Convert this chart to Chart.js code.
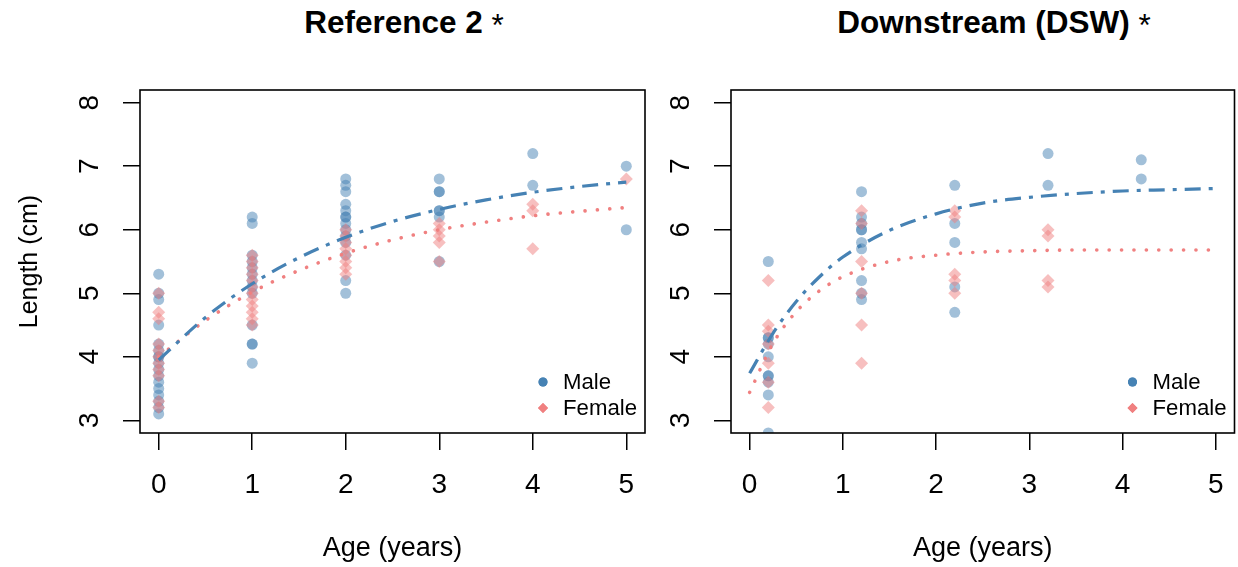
<!DOCTYPE html>
<html>
<head>
<meta charset="utf-8">
<script src="https://cdn.jsdelivr.net/npm/chart.js@4.4.1/dist/chart.umd.min.js"></script>
<style>
    body { margin: 0; background: #fff; width: 1238px; height: 567px; overflow: hidden; position: relative; font-family: "Liberation Sans", Arial, Helvetica, sans-serif; }
    .panel { position: absolute; top: 0; }
    .title { position: absolute; top: 3px; font-weight: bold; font-size: 31.5px; line-height: 38px; white-space: nowrap; transform: translateX(-50%); color: #000; }
    .title span { font-weight: normal; position: relative; top: 3px; }
</style>
</head>
<body>
<div class="title" style="left: 404px;">Reference 2 <span>*</span></div>
<div class="title" style="left: 994px;">Downstream (DSW) <span>*</span></div>
<div class="panel" style="left: 0;"><canvas class="ref-chart" width="660" height="567"></canvas></div>
<div class="panel" style="left: 660px;"><canvas class="dsw-chart" width="581" height="567"></canvas></div>

<script>
const xTicks = [0, 1, 2, 3, 4, 5];
const yTicks = [3, 4, 5, 6, 7, 8];

// Reference 2
const refAges = [0, 1, 2, 3, 4, 5];
const refMaleLen = [
    [5.3, 5.0, 4.9, 4.5, 4.2, 4.1, 4.0, 4.0, 3.9, 3.8, 3.7, 3.6, 3.5, 3.4, 3.3, 3.2, 3.1],
    [6.2, 6.1, 5.6, 5.5, 5.4, 5.3, 5.2, 5.1, 5.0, 4.5, 4.2, 4.2, 3.9],
    [6.8, 6.7, 6.6, 6.4, 6.3, 6.2, 6.2, 6.1, 6.0, 5.9, 5.8, 5.6, 5.2, 5.0],
    [6.8, 6.6, 6.6, 6.3, 6.3, 6.2, 5.5],
    [7.2, 6.7],
    [7.0, 6.0]
];
const refFemaleLen = [
    [5.0, 4.7, 4.6, 4.2, 4.1, 4.0, 3.9, 3.8, 3.7, 3.3, 3.2],
    [5.6, 5.5, 5.4, 5.3, 5.2, 5.1, 5.0, 4.9, 4.8, 4.7, 4.6, 4.5],
    [6.0, 5.9, 5.8, 5.7, 5.6, 5.5, 5.4, 5.3],
    [6.1, 6.0, 5.9, 5.8, 5.5],
    [6.4, 6.3, 5.7],
    [6.8]
];
const refCurveAge = [0, 0.5, 1, 1.5, 2, 2.5, 3, 3.5, 4, 4.5, 5];
const refMaleFit = [3.95, 4.62, 5.15, 5.56, 5.88, 6.13, 6.32, 6.47, 6.59, 6.68, 6.75];
const refFemaleFit = [4.0, 4.57, 5.02, 5.36, 5.63, 5.84, 6.0, 6.12, 6.22, 6.29, 6.35];

// Downstream (DSW)
const dswAges = [0.2, 1.2, 2.2, 3.2, 4.2];
const dswMaleLen = [
    [5.5, 4.3, 4.3, 4.2, 4.0, 3.7, 3.7, 3.6, 3.4, 2.8],
    [6.6, 6.2, 6.1, 6.0, 6.0, 5.8, 5.7, 5.2, 5.0, 4.9],
    [6.7, 6.1, 5.8, 5.1, 4.7],
    [7.2, 6.7],
    [7.1, 6.8]
];
const dswFemaleLen = [
    [5.2, 4.5, 4.4, 4.2, 3.9, 3.6, 3.2],
    [6.3, 6.1, 5.5, 5.0, 4.5, 3.9],
    [6.3, 6.2, 5.3, 5.2, 5.0],
    [6.0, 5.9, 5.2, 5.1],
    []
];
const dswCurveAge = [0, 0.25, 0.5, 0.75, 1, 1.5, 2, 2.5, 3, 3.5, 4, 4.5, 5];
const dswMaleFit = [3.74, 4.37, 4.87, 5.26, 5.57, 5.99, 6.25, 6.42, 6.51, 6.57, 6.61, 6.63, 6.65];
const dswFemaleFit = [3.44, 4.21, 4.71, 5.04, 5.26, 5.50, 5.60, 5.65, 5.67, 5.68, 5.68, 5.68, 5.68];

const FONT = "'Liberation Sans', Arial, Helvetica, sans-serif";
const BLUE = "rgb(70,130,180)";
const PINK = "rgb(240,128,128)";

function toPoints(ages, lens) {
    let pts = [];
    ages.forEach((a, i) => {
        lens[i].forEach(v => pts.push({ x: a, y: v }));
    });
    return pts;
}

function toLine(ages, vals) {
    return ages.map((a, i) => ({ x: a, y: vals[i] }));
}

// box round the plot area, like R's box()
const boxPlugin = {
    id: "box",
    afterDatasetsDraw(chart) {
        let { ctx, chartArea: a } = chart;
        ctx.save();
        ctx.strokeStyle = "#000";
        ctx.lineWidth = 1.6;
        ctx.strokeRect(a.left, a.top, a.right - a.left, a.bottom - a.top);
        ctx.restore();
    }
};

// legend in the bottom right corner
const cornerLegend = {
    id: "cornerLegend",
    afterDraw(chart) {
        let { ctx, chartArea: a } = chart;
        let items = [
            { text: "Male", style: "circle", color: BLUE, r: 4.5, dy: -51 },
            { text: "Female", style: "rectRot", color: PINK, r: 5, dy: -25 }
        ];
        ctx.save();
        ctx.font = "22.2px " + FONT;
        ctx.textBaseline = "middle";
        items.forEach(it => {
            let y = a.bottom + it.dy;
            ctx.fillStyle = it.color;
            Chart.helpers.drawPoint(ctx, { pointStyle: it.style, radius: it.r, borderWidth: 0 }, a.right - 102, y);
            ctx.fill();
            ctx.fillStyle = "#000";
            ctx.fillText(it.text, a.right - 82, y + 1);
        });
        ctx.restore();
    }
};

function noScalePadding(s) {
    s.paddingLeft = 0;
    s.paddingRight = 0;
    s.paddingTop = 0;
    s.paddingBottom = 0;
}

function makeChart(canvas, opts) {
    return new Chart(canvas, {
        type: "scatter",
        data: {
            datasets: [
                {
                    label: "Male fit", type: "line", data: opts.maleFit, order: 0, clip: 0,
                    borderColor: BLUE, borderWidth: 3.2, borderDash: [16, 8, 4, 8],
                    pointRadius: 0, showLine: true, fill: false, cubicInterpolationMode: "monotone"
                },
                {
                    label: "Female fit", type: "line", data: opts.femaleFit, order: 1, clip: 0,
                    borderColor: PINK, borderWidth: 3.6, borderDash: [0.1, 12.3], borderCapStyle: "round",
                    pointRadius: 0, showLine: true, fill: false, cubicInterpolationMode: "monotone"
                },
                {
                    label: "Female", data: opts.female, order: 2, clip: 0,
                    pointStyle: "rectRot", pointRadius: 6.5, borderWidth: 0,
                    backgroundColor: "rgba(240,128,128,0.5)"
                },
                {
                    label: "Male", data: opts.male, order: 3, clip: 0,
                    pointStyle: "circle", pointRadius: 5.5, borderWidth: 0,
                    backgroundColor: "rgba(70,130,180,0.5)"
                }
            ]
        },
        options: {
            responsive: false,
            animation: false,
            events: [],
            layout: { padding: { top: 90, right: opts.padRight, left: 0, bottom: 0 } },
            plugins: {
                legend: { display: false },
                tooltip: { enabled: false },
                title: { display: false }
            },
            scales: {
                x: {
                    type: "linear",
                    min: -0.2,
                    max: 5.2,
                    afterBuildTicks: s => { s.ticks = xTicks.map(v => ({ value: v })); },
                    afterFit: s => { s.height = 134; noScalePadding(s); },
                    grid: { drawOnChartArea: false, drawTicks: true, tickLength: 17, color: "#000", lineWidth: 1.5 },
                    border: { display: false },
                    ticks: { color: "#000", font: { family: FONT, size: 28 }, padding: 18, maxRotation: 0 },
                    title: { display: true, text: "Age (years)", color: "#000", font: { family: FONT, size: 27 }, padding: { top: 0, bottom: 2 } }
                },
                y: {
                    type: "linear",
                    min: 2.8,
                    max: 8.2,
                    afterBuildTicks: s => { s.ticks = yTicks.map(v => ({ value: v })); },
                    afterFit: s => { s.width = opts.yWidth; noScalePadding(s); },
                    grid: { drawOnChartArea: false, drawTicks: true, tickLength: 17, color: "#000", lineWidth: 1.5 },
                    border: { display: false },
                    ticks: { color: "#000", font: { family: FONT, size: 28 }, padding: 25, minRotation: 90, maxRotation: 90, crossAlign: "center" },
                    title: { display: opts.yTitle, text: "Length (cm)", color: "#000", font: { family: FONT, size: 25 }, padding: { top: 15, bottom: 0 } }
                }
            }
        },
        plugins: [boxPlugin, cornerLegend]
    });
}

let refChart = makeChart(document.querySelector(".ref-chart"), {
    male: toPoints(refAges, refMaleLen),
    female: toPoints(refAges, refFemaleLen),
    maleFit: toLine(refCurveAge, refMaleFit),
    femaleFit: toLine(refCurveAge, refFemaleFit),
    yWidth: 140,
    yTitle: true,
    padRight: 15
});

// canvas runs 3px past the window so the plot box ends at x=1236
let dswChart = makeChart(document.querySelector(".dsw-chart"), {
    male: toPoints(dswAges, dswMaleLen),
    female: toPoints(dswAges, dswFemaleLen),
    maleFit: toLine(dswCurveAge, dswMaleFit),
    femaleFit: toLine(dswCurveAge, dswFemaleFit),
    yWidth: 71,
    yTitle: false,
    padRight: 5
});
</script>
</body>
</html>
